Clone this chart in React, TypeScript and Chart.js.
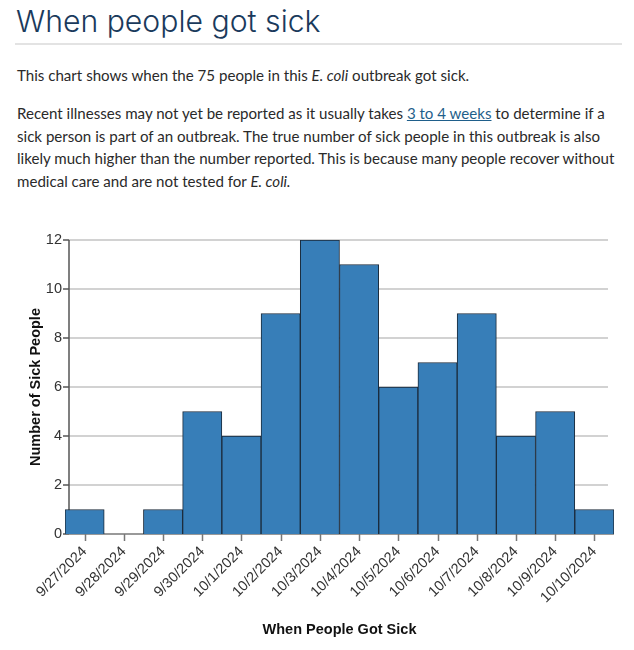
import React, { useEffect, useRef } from "react";
import { Chart, registerables } from "chart.js";

Chart.register(...registerables);

const categories = [
  "9/27/2024",
  "9/28/2024",
  "9/29/2024",
  "9/30/2024",
  "10/1/2024",
  "10/2/2024",
  "10/3/2024",
  "10/4/2024",
  "10/5/2024",
  "10/6/2024",
  "10/7/2024",
  "10/8/2024",
  "10/9/2024",
  "10/10/2024",
];
const sickCounts = [1, 0, 1, 5, 4, 9, 12, 11, 6, 7, 9, 4, 5, 1];
const yTicks = [0, 2, 4, 6, 8, 10, 12];

const titleText = "When people got sick";
const xTitle = "When People Got Sick";
const yTitle = "Number of Sick People";

const axesPlugin = {
  id: "customAxes",
  beforeDatasetsDraw(chart: any) {
    const { ctx, chartArea: a, scales } = chart;
    const x = scales.x;
    const y = scales.y;
    const axisX = a.left + 4;
    const line = (x1: number, y1: number, x2: number, y2: number) => {
      ctx.beginPath();
      ctx.moveTo(x1, y1);
      ctx.lineTo(x2, y2);
      ctx.stroke();
    };
    ctx.save();
    ctx.strokeStyle = "#d2d2d2";
    ctx.lineWidth = 2;
    yTicks.forEach((v) => {
      if (v === 0) return;
      const py = Math.round(y.getPixelForValue(v));
      line(axisX, py, a.right - 6, py);
    });
    ctx.strokeStyle = "#555555";
    ctx.lineWidth = 1.5;
    line(axisX, a.top, axisX, a.bottom);
    yTicks.forEach((v) => {
      const py = Math.round(y.getPixelForValue(v));
      line(axisX - 6, py, axisX, py);
    });
    ctx.strokeStyle = "#777777";
    line(a.left, a.bottom, a.right, a.bottom);
    categories.forEach((_, i) => {
      const px = Math.round(x.getPixelForValue(i)) + 0.5;
      line(px, a.bottom, px, a.bottom + 7);
    });
    ctx.restore();
  },
};

const bodyFont = "Lato, 'Noto Sans', sans-serif";
const axisFont = "'Liberation Sans', Arial, sans-serif";

export default function App() {
  const canvasRef = useRef<HTMLCanvasElement | null>(null);

  useEffect(() => {
    const canvas = canvasRef.current;
    if (!canvas) return;
    const chart = new Chart(canvas, {
      type: "bar",
      data: {
        labels: categories,
        datasets: [
          {
            data: sickCounts,
            backgroundColor: "#377eb8",
            borderColor: "#1b2a3a",
            borderWidth: 1,
            barPercentage: 1,
            categoryPercentage: 1,
          },
        ],
      },
      options: {
        responsive: false,
        animation: false,
        layout: { padding: { top: 40, right: 20, left: 0, bottom: 0 } },
        plugins: {
          legend: { display: false },
          tooltip: { enabled: false },
        },
        scales: {
          x: {
            type: "category",
            offset: true,
            grid: { display: false, drawTicks: false },
            border: { display: false },
            ticks: {
              maxRotation: 45,
              minRotation: 45,
              padding: 9,
              color: "#333333",
              font: { family: axisFont, size: 14.5 },
            },
            title: {
              display: true,
              text: xTitle,
              color: "#111111",
              font: { family: axisFont, size: 14.5, weight: "bold" },
              padding: { top: 0, bottom: 11 },
            },
            afterFit(scale: any) {
              scale.height = 116;
            },
          },
          y: {
            min: 0,
            max: 12,
            grid: { display: false, drawTicks: false },
            border: { display: false },
            ticks: {
              stepSize: 2,
              padding: 3,
              color: "#333333",
              font: { family: axisFont, size: 14.5 },
            },
            title: {
              display: true,
              text: yTitle,
              color: "#111111",
              font: { family: axisFont, size: 14.5, weight: "bold" },
              padding: { top: 27, bottom: 0 },
            },
            afterFit(scale: any) {
              scale.width = 65;
            },
          },
        },
      },
      plugins: [axesPlugin],
    });
    return () => chart.destroy();
  }, []);

  const para: React.CSSProperties = {
    position: "absolute",
    left: 17,
    margin: 0,
    fontFamily: bodyFont,
    fontSize: 15.1,
    color: "#2a2a2a",
    whiteSpace: "nowrap",
    lineHeight: "22.5px",
  };

  return (
    <div style={{ position: "absolute", top: 0, left: 0, width: 634, height: 650, background: "#ffffff" }}>
      <div
        style={{
          position: "absolute",
          left: 16,
          top: 3,
          fontFamily: "Inter, sans-serif",
          fontWeight: 300,
          fontSize: 30.2,
          lineHeight: "37px",
          color: "#1a3a5c",
          whiteSpace: "nowrap",
        }}
      >
        {titleText}
      </div>
      <div style={{ position: "absolute", left: 15, top: 43, width: 607, height: 2, background: "#e3e3e3" }} />
      <p style={{ ...para, top: 64 }}>
        This chart shows when the 75 people in this <i>E. coli</i> outbreak got sick.
      </p>
      <p style={{ ...para, top: 102 }}>
        Recent illnesses may not yet be reported as it usually takes{" "}
        <a href="#" style={{ color: "#1f5f8b", textDecoration: "underline" }}>3 to 4 weeks</a> to determine if a
        <br />
        sick person is part of an outbreak. The true number of sick people in this outbreak is also
        <br />
        likely much higher than the number reported. This is because many people recover without
        <br />
        medical care and are not tested for <i>E. coli.</i>
      </p>
      <canvas
        ref={canvasRef}
        width={634}
        height={450}
        style={{ position: "absolute", left: 0, top: 200, width: 634, height: 450 }}
      />
    </div>
  );
}
